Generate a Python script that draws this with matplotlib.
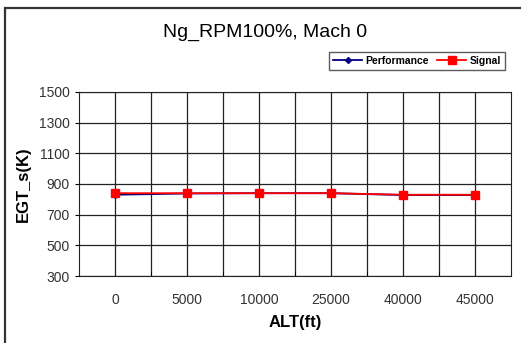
import numpy as np
import matplotlib
matplotlib.use('Agg')
import matplotlib.pyplot as plt
from matplotlib.patches import Rectangle

alt_labels = ['0', '5000', '10000', '25000', '40000', '45000']
performance = [830, 838, 840, 840, 828, 828]
signal = [840, 840, 840, 840, 830, 830]

plt.rcParams['font.family'] = ['Liberation Sans', 'DejaVu Sans']

fig = plt.figure(figsize=(5.21, 3.43), dpi=100)
# outer chart frame (left and top visible)
fig.patches.append(Rectangle((5 / 521, -0.2), 1.2, 1.2 - 8 / 343, transform=fig.transFigure,
                             fill=False, edgecolor='#333333', linewidth=1.6))
ax = fig.add_axes([79 / 521, 1 - 276 / 343, 432 / 521, 184 / 343])

x = np.arange(len(alt_labels))
ax.plot(x, performance, color='#000080', marker='D', markersize=3, linewidth=1.3, label='Performance')
ax.plot(x, signal, color='red', marker='s', markersize=6, linewidth=1.3, label='Signal')

ax.set_xlim(-0.5, len(alt_labels) - 0.5)
ax.set_ylim(300, 1500)
ax.set_yticks(np.arange(300, 1501, 200))
ax.set_xticks(x)
ax.set_xticklabels(alt_labels)
ax.set_xticks(np.arange(0.5, len(alt_labels) - 0.5, 1), minor=True)
ax.grid(True, which='both', color='#222222', linewidth=0.9)
ax.set_axisbelow(True)
ax.tick_params(axis='x', which='major', length=0, pad=12, labelsize=10, labelcolor='#333333')
ax.tick_params(axis='x', which='minor', direction='in', length=3)
ax.tick_params(axis='y', length=3, labelsize=10, labelcolor='#333333')
for s in ax.spines.values():
    s.set_color('#222222')

ax.set_xlabel('ALT(ft)', fontsize=12, fontweight='bold', labelpad=6)
ax.set_ylabel('EGT_s(K)', fontsize=12, fontweight='bold', labelpad=6)
fig.text(265 / 521, 1 - 32 / 343, 'Ng_RPM100%, Mach 0', ha='center', va='center', fontsize=14)

leg = fig.legend(loc='center', bbox_to_anchor=(417 / 521, 1 - 61 / 343), ncol=2, frameon=True,
                 fancybox=False, edgecolor='#333333', prop={'size': 7.5, 'weight': 'bold'},
                 handlelength=2.8, columnspacing=0.8, handletextpad=0.3, borderpad=0.4)
leg.get_frame().set_linewidth(1.0)

fig.savefig('out.png', dpi=100)
